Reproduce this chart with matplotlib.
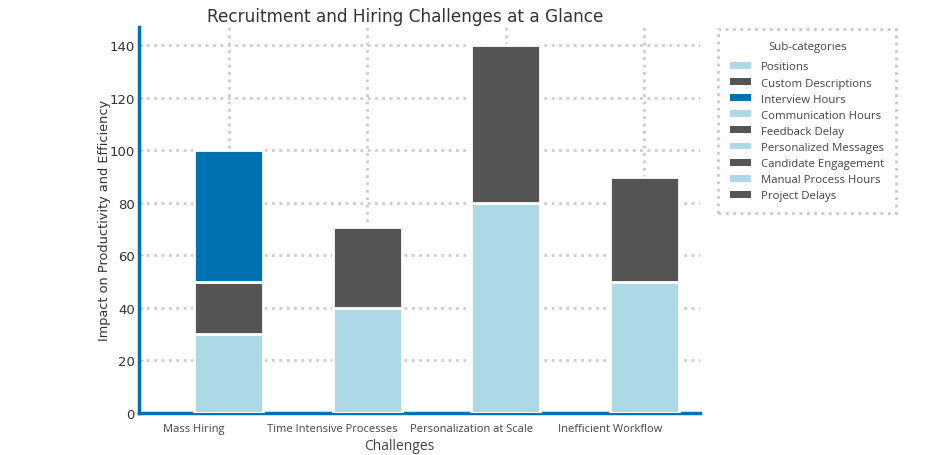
import matplotlib
matplotlib.use("Agg")
import matplotlib.pyplot as plt
import matplotlib.patches as mpatches
import numpy as np

categories = ["Mass Hiring", "Time Intensive Processes", "Personalization at Scale", "Inefficient Workflow"]
seg_labels = ["Positions", "Custom Descriptions", "Interview Hours",
              "Communication Hours", "Feedback Delay",
              "Personalized Messages", "Candidate Engagement",
              "Manual Process Hours", "Project Delays"]
seg_category = [0, 0, 0, 1, 1, 2, 2, 3, 3]
seg_values = [30, 20, 50, 40, 31, 80, 60, 50, 40]
LIGHT = "#ADD8E6"
DARK = "#555555"
BLUE = "#0072B2"
seg_colors = [LIGHT, DARK, BLUE, LIGHT, DARK, LIGHT, DARK, LIGHT, DARK]
bar_width = 0.5

fig = plt.figure(figsize=(9.38, 4.56), dpi=100)
ax = fig.add_axes([0.148, 0.092, 0.598, 0.847])

x = np.arange(len(categories))
bottoms = np.zeros(len(categories))
handles = []
for lab, ci, v, c in zip(seg_labels, seg_category, seg_values, seg_colors):
    ax.bar(x[ci], v, bottom=bottoms[ci], width=bar_width, color=c,
           edgecolor="white", linewidth=2, label=lab, zorder=3)
    bottoms[ci] += v
    handles.append(mpatches.Patch(facecolor=c, edgecolor="none", label=lab))

ax.set_xlim(-0.65, 3.4)
ax.set_ylim(0, 147)
ax.set_yticks(np.arange(0, 141, 20))
# major ticks carry the grid at bar centres; labels sit on minor ticks, shifted left
ax.set_xticks(x)
ax.set_xticklabels([])
ax.set_xticks(x - bar_width / 2, minor=True)
ax.set_xticklabels(categories, minor=True, fontsize=8, color="#444444", family="Open Sans")
ax.tick_params(axis="y", labelsize=9.5, labelcolor="#333333", color="#bbbbbb",
               length=3, direction="in", pad=3)
ax.tick_params(axis="x", which="both", length=0, pad=7)
ax.grid(True, which="major", color="#cccccc", linestyle=":", linewidth=2, zorder=0)
ax.set_axisbelow(True)
for s in ["top", "right"]:
    ax.spines[s].set_visible(False)
for s in ["left", "bottom"]:
    ax.spines[s].set_color(BLUE)
    ax.spines[s].set_linewidth(2.5)

ax.set_title("Recruitment and Hiring Challenges at a Glance", fontsize=12.2,
             color="#333333", pad=4, x=0.475)
ax.set_ylabel("Impact on Productivity and Efficiency", fontsize=9.3, color="#333333",
              labelpad=-1)
ax.set_xlabel("Challenges", fontsize=10, color="#444444", family="Open Sans",
              labelpad=3, x=0.464)

leg = ax.legend(handles=handles, title="Sub-categories", loc="upper left",
                bbox_to_anchor=(1.033, 0.995), prop={"family": "Open Sans", "size": 8.2},
                title_fontproperties={"family": "Open Sans", "size": 8.2},
                frameon=True, fancybox=False, borderpad=1.05, labelspacing=0.45,
                handlelength=1.8, handleheight=0.55, handletextpad=0.9, borderaxespad=0)
leg._legend_box.sep = 7
for t in leg.get_texts():
    t.set_color("#444444")
leg.get_title().set_color("#444444")
fr = leg.get_frame()
fr.set_edgecolor("#bbbbbb")
fr.set_linestyle(":")
fr.set_linewidth(2)

fig.savefig("out.png", dpi=100)
